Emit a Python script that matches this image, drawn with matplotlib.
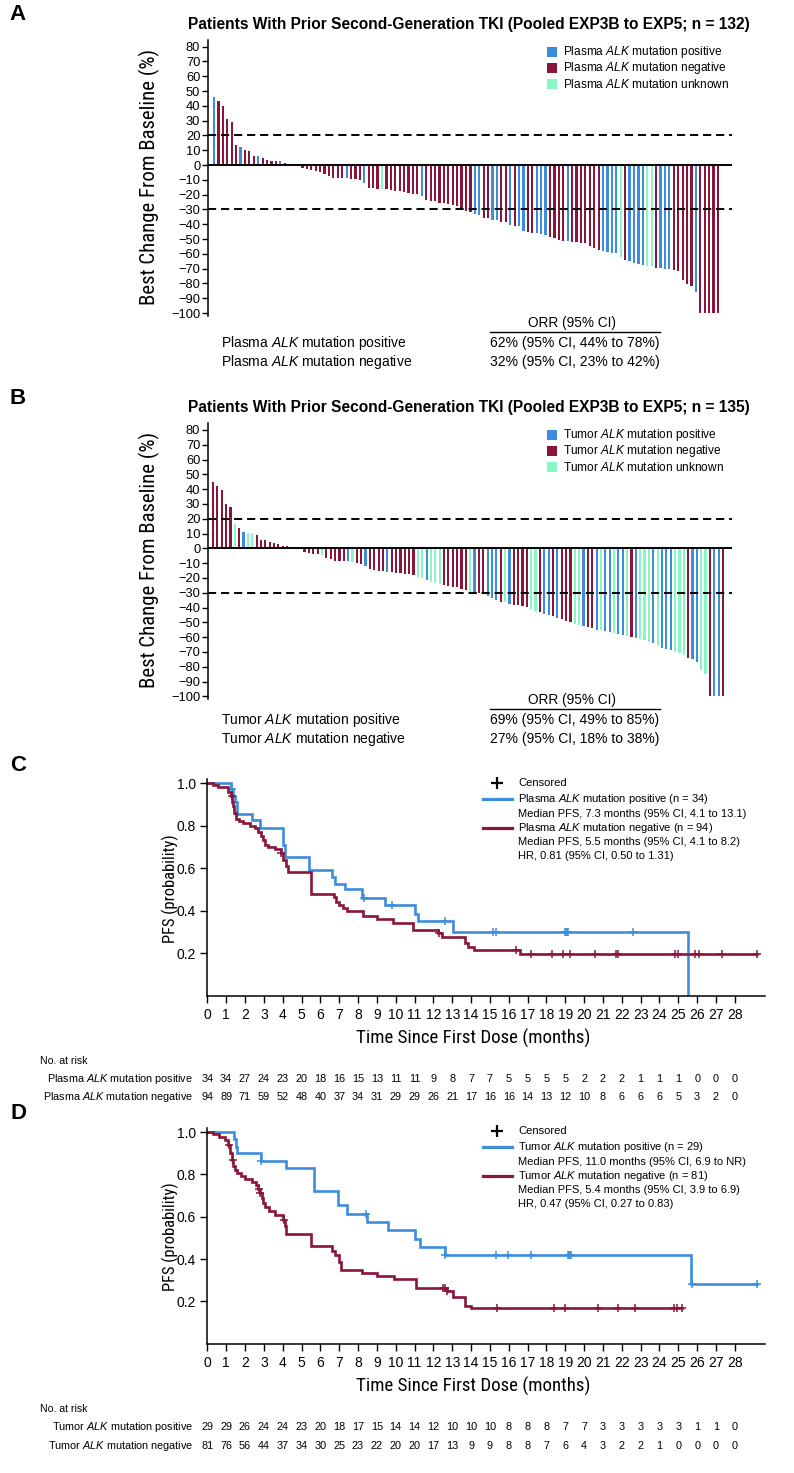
import matplotlib
import numpy as np
from matplotlib import font_manager
from matplotlib.lines import Line2D
from matplotlib.patches import Rectangle
from matplotlib.transforms import blended_transform_factory

matplotlib.use("Agg")
import matplotlib.pyplot as plt

W, H = 794, 1473

# ------------------------------------------------------------------ data
# waterfall bars: best % change, and plasma/tumor ALK status (P/N/U)
A_change = [46, 43, 40, 31, 29, 13.6, 12, 10, 9.8, 6, 6, 4.8, 3.4, 3, 2.5, 2.5, 1.6, 1,
            0, 0,
            -2.2, -3, -3.6, -4, -4.5, -6.3, -7.4, -8.5, -8.7, -9, -9, -9.3, -9.6, -10.4,
            -12.2, -15.3, -15.8, -16, -16.4, -16.4, -17, -17.3, -17.8, -18.2, -19, -19.3,
            -19.8, -21, -23.3, -24, -24.4, -25.3, -25.6, -26.2, -27, -27.8, -28.7, -31,
            -32, -33, -33.5, -35.5, -36, -36.8, -37.2, -38.3, -38.8, -40.5, -41, -41.5,
            -44.5, -45.2, -45.6, -46.2, -46.6, -47, -48.5, -49.2, -50.5, -51, -51.5, -52,
            -52.3, -52.5,
            -53, -54.4, -56, -57.5, -58, -59, -59.2, -59.5, -62, -64, -65, -66, -67, -67.6,
            -68.2, -68.4, -69.3, -69.8, -70, -70.4, -71, -71.6, -77.8, -80.4, -81.6, -86,
            -100, -100, -100, -100, -100]
A_status = ("PNNNNNPNNNPNNNNPNN" "NN"
            "NNNNNNNNNNPNNNPNNNUNNNNNNNNPNNNNNNNNNN"
            "NPPNNPPNNPNPPNNPPPNNNNPNNN"
            "NNNNPPPPUNPPPPUUNPPPNNNNNPNNNNN")

B_change = [45, 42.2, 39.5, 30.3, 28, 16.2, 14, 11.2, 10.3, 10.1, 9.2, 5.6, 5.4, 4, 3.4,
            2.7, 1.8, 1.6, 0.9,
            0, 0,
            -2.5, -3, -3.5, -4, -4.5, -6.5, -7.5, -8.4, -8.4, -8.5, -8.5, -9, -9.7, -10.6,
            -12, -13.8, -14.7, -15.3, -15.6, -16, -16.2, -16.5, -16.8, -17.2, -17.5, -18.3,
            -19.6, -20, -21.2, -22.6, -23.3, -24, -25, -25.5, -26, -26.4, -27.3, -27.8,
            -29.5, -30, -30.5, -31, -32, -33.5, -35, -36, -36.5, -37.5, -38, -38.5, -39,
            -39.5, -41, -42, -43, -44.5, -45, -46, -47, -48, -49, -50, -51, -51.5, -52.5,
            -53, -54, -55, -55.5, -56, -56.5, -57, -58, -58.5, -59, -60, -60.5, -61, -62,
            -63, -64, -66, -67, -68, -69, -70, -71, -72, -74, -75, -77, -82, -85,
            -100, -100, -100, -100]
B_status = ("NNNNNUNPUUNNNNNNNNU" "NN"
            "NNNNUNNNNNPUNNPNNNNPNNNNNNUUPUUUNNNNNN"
            "UPNNPPPNUPNNNNUUNPPNPNNNUUPNNPUPPUPPUNPUUUPUPPPUUUNPPUUNPPN")

ORR_A_labels = ["Plasma $\\mathit{ALK}$ mutation positive", "Plasma $\\mathit{ALK}$ mutation negative"]
ORR_A_values = ["62% (95% CI, 44% to 78%)", "32% (95% CI, 23% to 42%)"]
ORR_B_labels = ["Tumor $\\mathit{ALK}$ mutation positive", "Tumor $\\mathit{ALK}$ mutation negative"]
ORR_B_values = ["69% (95% CI, 49% to 85%)", "27% (95% CI, 18% to 38%)"]

# Kaplan-Meier steps (months, PFS probability), censor times, line end
C_pos_t = [0, 1.25, 1.35, 1.45, 1.55, 2.35, 2.8, 4.0, 4.1, 5.4, 6.6, 6.8, 7.3, 8.2, 9.45,
           11.0, 11.2, 13.05, 25.5]
C_pos_s = [1.0, 0.97, 0.94, 0.91, 0.855, 0.825, 0.79, 0.71, 0.65, 0.59, 0.56, 0.525, 0.50,
           0.46, 0.425, 0.385, 0.35, 0.30, 0.0]
C_pos_cens = [1.3, 8.3, 9.8, 12.6, 15.15, 15.3, 19.0, 19.05, 19.1, 19.15, 22.6]
C_pos_end = 25.5
C_neg_t = [0, 0.32, 0.58, 1.1, 1.24, 1.33, 1.38, 1.43, 1.5, 1.7, 1.9, 2.27, 2.53, 2.7, 2.83,
           2.97, 3.06, 3.2, 3.6, 3.9, 4.04, 4.18, 4.3, 5.5, 6.7, 6.83, 7.0, 7.22, 7.4, 8.28,
           9.0, 9.84, 10.94, 12.27, 12.44, 13.68, 13.86, 14.18, 16.6]
C_neg_s = [1.0, 0.99, 0.98, 0.96, 0.94, 0.91, 0.89, 0.86, 0.83, 0.82, 0.81, 0.80, 0.79, 0.77,
           0.75, 0.73, 0.71, 0.70, 0.69, 0.67, 0.64, 0.61, 0.58, 0.48, 0.465, 0.44, 0.425,
           0.41, 0.40, 0.376, 0.362, 0.34, 0.31, 0.295, 0.275, 0.245, 0.23, 0.214, 0.197]
C_neg_cens = [1.3, 3.9, 12.3, 16.4, 17.2, 18.3, 18.9, 19.25, 20.6, 21.7, 21.8, 24.8, 25.0,
              25.9, 26.1, 27.3, 29.2]
C_neg_end = 29.2

D_pos_t = [0, 1.4, 1.5, 1.6, 2.85, 4.2, 5.65, 6.95, 7.4, 8.5, 9.6, 11.05, 11.3, 12.6, 25.65]
D_pos_s = [1.0, 0.965, 0.93, 0.90, 0.865, 0.83, 0.72, 0.655, 0.615, 0.575, 0.535, 0.495,
           0.455, 0.42, 0.28]
D_pos_cens = [2.85, 8.4, 12.6, 15.3, 15.95, 17.2, 19.15, 19.2, 19.25, 19.3, 25.75, 29.2]
D_pos_end = 29.2
D_neg_t = [0, 0.3, 0.6, 0.95, 1.1, 1.2, 1.3, 1.38, 1.45, 1.6, 1.8, 2.0, 2.35, 2.6, 2.7, 2.8,
           2.88, 2.95, 3.05, 3.3, 3.6, 4.0, 4.1, 4.2, 5.5, 6.6, 6.8, 7.0, 7.1, 8.2, 9.0, 9.9,
           11.1, 12.7, 13.05, 13.7, 14.0]
D_neg_s = [1.0, 0.99, 0.975, 0.96, 0.94, 0.90, 0.87, 0.84, 0.82, 0.805, 0.79, 0.78, 0.765,
           0.75, 0.73, 0.71, 0.69, 0.665, 0.645, 0.625, 0.61, 0.585, 0.555, 0.52, 0.46, 0.44,
           0.42, 0.385, 0.35, 0.335, 0.32, 0.305, 0.265, 0.25, 0.222, 0.18, 0.168]
D_neg_cens = [1.15, 1.35, 2.75, 2.8, 4.05, 12.5, 12.6, 12.7, 15.4, 18.4, 19.0, 20.75, 21.8,
              22.7, 24.75, 24.95, 25.2]
D_neg_end = 25.2

months = list(range(29))
C_risk_pos = [34, 34, 27, 24, 23, 20, 18, 16, 15, 13, 11, 11, 9, 8, 7, 7, 5, 5, 5, 5, 2, 2, 2, 1, 1, 1, 0, 0, 0]
C_risk_neg = [94, 89, 71, 59, 52, 48, 40, 37, 34, 31, 29, 29, 26, 21, 17, 16, 16, 14, 13, 12, 10, 8, 6, 6, 6, 5, 3, 2, 0]
D_risk_pos = [29, 29, 26, 24, 24, 23, 20, 18, 17, 15, 14, 14, 12, 10, 10, 10, 8, 8, 8, 7, 7, 3, 3, 3, 3, 3, 1, 1, 0]
D_risk_neg = [81, 76, 56, 44, 37, 34, 30, 25, 23, 22, 20, 20, 17, 13, 9, 9, 8, 8, 7, 6, 4, 3, 2, 2, 1, 0, 0, 0, 0]

C_legend = ["Plasma $\\mathit{ALK}$ mutation positive (n = 34)",
            "Median PFS, 7.3 months (95% CI, 4.1 to 13.1)",
            "Plasma $\\mathit{ALK}$ mutation negative (n = 94)",
            "Median PFS, 5.5 months (95% CI, 4.1 to 8.2)",
            "HR, 0.81 (95% CI, 0.50 to 1.31)"]
D_legend = ["Tumor $\\mathit{ALK}$ mutation positive (n = 29)",
            "Median PFS, 11.0 months (95% CI, 6.9 to NR)",
            "Tumor $\\mathit{ALK}$ mutation negative (n = 81)",
            "Median PFS, 5.4 months (95% CI, 3.9 to 6.9)",
            "HR, 0.47 (95% CI, 0.27 to 0.83)"]

# ------------------------------------------------------------------ style
BLUE = "#3d8ddc"
RED = "#8a1538"
GREEN = "#88f7c4"
STATUS_COLOR = {"P": BLUE, "N": RED, "U": GREEN}

installed = {f.name for f in font_manager.fontManager.ttflist}


def pick(*names):
    for n in names:
        if n in installed:
            return n
    return "DejaVu Sans"


SANS = pick("Liberation Sans", "Arimo", "DejaVu Sans")
NARROW = pick("Liberation Sans Narrow", "Roboto Condensed", "DejaVu Sans Condensed", SANS)

plt.rcParams.update({
    "font.family": SANS,
    "mathtext.fontset": "custom",
    "mathtext.rm": SANS,
    "mathtext.it": SANS + ":italic",
    "mathtext.bf": SANS + ":bold",
    "axes.linewidth": 1.1,
})

fig = plt.figure(figsize=(W / 100, H / 100), dpi=100)
renderer = fig.canvas.get_renderer()


def fx(x):
    return x / W


def fy(y):
    return 1 - y / H


def axes_px(left, top, right, bottom):
    return fig.add_axes([left / W, 1 - bottom / H, (right - left) / W, (bottom - top) / H])


def text(x, y, s, **kw):
    kw.setdefault("va", "center")
    return fig.text(fx(x), fy(y), s, **kw)


def fit_text(x, y, s, size, **kw):
    # scale the font so the text spans `size` pixels (width, or height if rotated)
    t = text(x, y, s, **kw)
    bb = t.get_window_extent(renderer)
    ext = bb.height if kw.get("rotation") == 90 else bb.width
    t.set_fontsize(t.get_fontsize() * size / ext)
    return t


def hline(x0, x1, y, **kw):
    fig.add_artist(Line2D([fx(x0), fx(x1)], [fy(y), fy(y)], transform=fig.transFigure, **kw))


# ------------------------------------------------------------------ waterfalls
def waterfall(top, values, status, first_px, last_px, title, legend_names,
              orr_labels, orr_values, letter, orr_y):
    zero = top + 84.5 * 1.48
    ax = axes_px(208, top, 732, top + 186.5 * 1.48)
    n = len(values)
    x = np.arange(n)
    ax.bar(x, values, width=0.5, color=[STATUS_COLOR[s] for s in status], linewidth=0)
    sp = (last_px - first_px) / (n - 1)
    ax.set_xlim(-(first_px - 208) / sp, n - 1 + (732 - last_px) / sp)
    ax.set_ylim(-102, 84.5)
    ax.axhline(0, color="black", lw=1.4)
    for yv in (20, -30):
        ax.axhline(yv, color="black", lw=1.4, ls=(0, (4.2, 2.5)))
    for side in ("top", "right", "bottom"):
        ax.spines[side].set_visible(False)
    ax.set_xticks([])
    ax.set_yticks(range(-100, 81, 10))
    ax.tick_params(axis="y", length=4, width=1, pad=1.5, labelsize=9.3)

    fit_text(469, top - 16, title, 565, ha="center", fontweight="bold", fontsize=9.5)
    text(18, top - 25, letter, ha="center", fontweight="bold", fontsize=16)
    fit_text(149, zero + 12, "Best Change From Baseline (%)", 255, ha="center",
             rotation=90, family=NARROW, fontsize=13)

    for i, (name, code) in enumerate(zip(legend_names, "PNU")):
        yy = top + 12 + 16 * i
        fig.add_artist(Rectangle((fx(547), fy(yy + 5)), 10 / W, 10 / H,
                                 transform=fig.transFigure, color=STATUS_COLOR[code], lw=0))
        text(563, yy, name, fontsize=8.6)

    text(572, orr_y, "ORR (95% CI)", ha="center", fontsize=9.8)
    hline(490, 660, orr_y + 9, color="black", lw=1.0)
    for i, (lab, val) in enumerate(zip(orr_labels, orr_values)):
        text(221, orr_y + 20 + 19 * i, lab, fontsize=10)
        text(490, orr_y + 20 + 19 * i, val, fontsize=10)


waterfall(40, A_change, A_status, 214, 718,
          "Patients With Prior Second-Generation TKI (Pooled EXP3B to EXP5; n = 132)",
          ["Plasma $\\mathit{ALK}$ mutation positive", "Plasma $\\mathit{ALK}$ mutation negative",
           "Plasma $\\mathit{ALK}$ mutation unknown"],
          ORR_A_labels, ORR_A_values, "A", 323)
waterfall(423.3, B_change, B_status, 213, 723,
          "Patients With Prior Second-Generation TKI (Pooled EXP3B to EXP5; n = 135)",
          ["Tumor $\\mathit{ALK}$ mutation positive", "Tumor $\\mathit{ALK}$ mutation negative",
           "Tumor $\\mathit{ALK}$ mutation unknown"],
          ORR_B_labels, ORR_B_values, "B", 700)


# ------------------------------------------------------------------ KM curves
def km(ax, t, s, cens, end, color):
    ax.step(list(t) + [end], list(s) + [s[-1]], where="post", color=color, lw=1.9,
            solid_joinstyle="miter")
    t_arr, s_arr = np.array(t), np.array(s)
    cs = s_arr[np.searchsorted(t_arr, cens, side="right") - 1]
    ax.plot(cens, cs, ls="none", marker="+", ms=5.5, mew=1.1, color=color)


PX_MONTH = 18.84
XMAX = 29.6


def km_panel(zero_y, unit, curves, legend, risk_labels, risks, letter):
    top = zero_y - 1.02 * unit
    ax = axes_px(207.3, top, 207.3 + XMAX * PX_MONTH, zero_y)
    for t, s, c, e, col in curves:
        km(ax, t, s, c, e, col)
    ax.set_xlim(0, XMAX)
    ax.set_ylim(0, 1.02)
    ax.set_xticks(months)
    ax.set_yticks([0.2, 0.4, 0.6, 0.8, 1.0])
    ax.set_yticklabels(["0.2", "0.4", "0.6", "0.8", "1.0"])
    for side in ("top", "right"):
        ax.spines[side].set_visible(False)
    ax.tick_params(length=5, width=1, labelsize=10, pad=4)
    ax.tick_params(axis="y", pad=3)

    text(18, zero_y - 230, letter, ha="center", fontweight="bold", fontsize=16)
    fit_text(170, zero_y - 107, "PFS (probability)", 108, ha="center", rotation=90,
             family=NARROW, fontsize=13)
    fit_text(473, zero_y + 43, "Time Since First Dose (months)", 233, ha="center",
             family=NARROW, fontsize=13)

    ly = zero_y - 212.5
    fig.add_artist(Line2D([fx(496.7)], [fy(ly)], transform=fig.transFigure, marker="+",
                          color="black", ms=8, mew=1.6))
    text(518, ly, "Censored", fontsize=8)
    offs = [16, 31, 45, 59, 73]
    for i, s in enumerate(legend):
        text(518, ly + offs[i], s, fontsize=8)
    hline(482.7, 511.7, ly + offs[0], color=curves[0][4], lw=2.3)
    hline(482.7, 511.7, ly + offs[2], color=curves[1][4], lw=2.3)

    tr = blended_transform_factory(ax.transData, fig.transFigure)
    text(40, zero_y + 65, "No. at risk", fontsize=7.6)
    for j, (lab, row) in enumerate(zip(risk_labels, risks)):
        yy = zero_y + 83 + 19 * j
        text(193, yy, lab, ha="right", fontsize=7.8)
        for m, v in zip(months, row):
            ax.text(m, fy(yy), str(v), transform=tr, ha="center", va="center", fontsize=7.8)


km_panel(995.5, 212.5,
         [(C_pos_t, C_pos_s, C_pos_cens, C_pos_end, BLUE),
          (C_neg_t, C_neg_s, C_neg_cens, C_neg_end, RED)],
         C_legend,
         ["Plasma $\\mathit{ALK}$ mutation positive", "Plasma $\\mathit{ALK}$ mutation negative"],
         [C_risk_pos, C_risk_neg], "C")
km_panel(1343.7, 211.7,
         [(D_pos_t, D_pos_s, D_pos_cens, D_pos_end, BLUE),
          (D_neg_t, D_neg_s, D_neg_cens, D_neg_end, RED)],
         D_legend,
         ["Tumor $\\mathit{ALK}$ mutation positive", "Tumor $\\mathit{ALK}$ mutation negative"],
         [D_risk_pos, D_risk_neg], "D")

fig.savefig("out.png", dpi=100)
